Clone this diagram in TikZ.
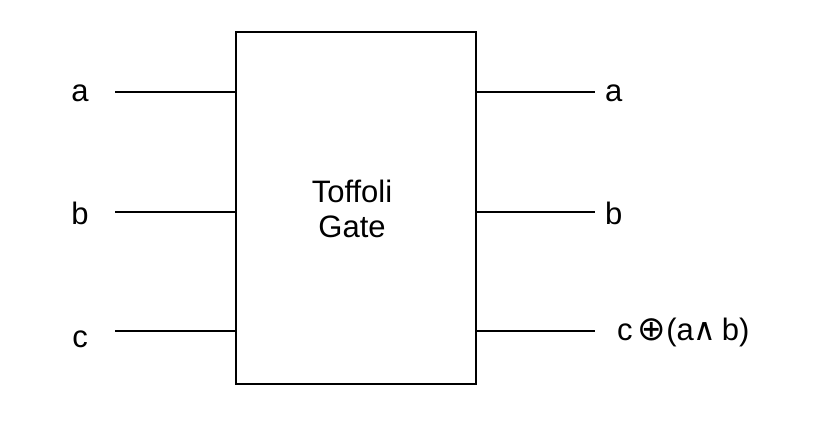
\documentclass[tikz,border=0pt]{standalone}
\usepackage{fontspec}
\setmainfont{Liberation Sans}
\newfontfamily\symfont{DejaVu Sans}
\begin{document}
\begin{tikzpicture}[x=1pt,y=-1pt,
  wire/.style={line width=1.6pt},
  lbl/.style={font=\fontsize{31}{36}\selectfont, inner sep=0pt}]
\useasboundingbox (0,0) rectangle (825,438);
\node[draw, line width=1.6pt, minimum width=240pt, minimum height=352pt, inner sep=0pt] (gate) at (356,208) {};
\node[font=\fontsize{31}{35}\selectfont, align=center, inner sep=0pt] (gtext) at (352,209) {Toffoli\\Gate};
\coordinate (la) at (115,92);
\coordinate (lb) at (115,212);
\coordinate (lc) at (115,331);
\coordinate (ra) at (595,92);
\coordinate (rb) at (595,212);
\coordinate (rc) at (595,331);
\draw[wire] (la) -- (la -| gate.west);
\draw[wire] (lb) -- (lb -| gate.west);
\draw[wire] (lc) -- (lc -| gate.west);
\draw[wire] (ra -| gate.east) -- (ra);
\draw[wire] (rb -| gate.east) -- (rb);
\draw[wire] (rc -| gate.east) -- (rc);
\node[lbl] (ta) at (80,93) {a};
\node[lbl] (tb) at (80,213) {b};
\node[lbl] (tc) at (80,339) {c};
\node[lbl, anchor=west] (tra) at (605,93) {a};
\node[lbl, anchor=west] (trb) at (605,213) {b};
\node[lbl, anchor=west] (trc) at (617,332) {c\,{\symfont\fontsize{34}{36}\selectfont ⊕}(a{\symfont ∧}\,b)};
\end{tikzpicture}
\end{document}
